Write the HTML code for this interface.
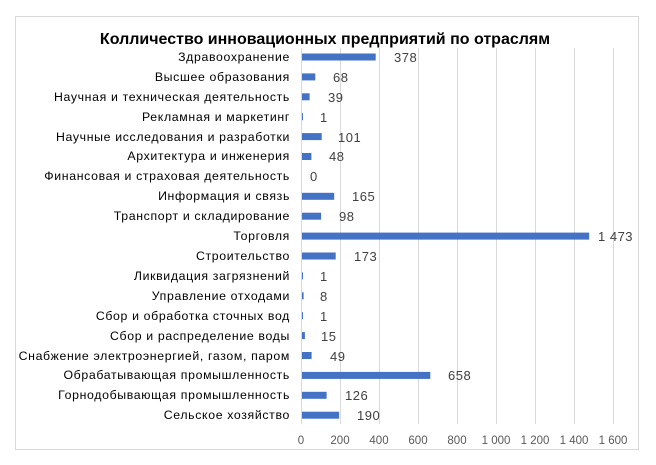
<!DOCTYPE html>
<html><head><meta charset="utf-8"><style>
html,body{margin:0;padding:0;background:#fff;}
svg{display:block;font-family:"Liberation Sans","DejaVu Sans",sans-serif;}
</style></head><body>
<svg width="656" height="465" viewBox="0 0 656 465" xmlns="http://www.w3.org/2000/svg">
<rect x="15.5" y="16.5" width="623" height="433" fill="#fff" stroke="#d9d9d9"/>
<text x="325" y="44" font-size="16" font-weight="bold" text-anchor="middle" fill="#000">Колличество инновационных предприятий по отраслям</text>
<g stroke="#d9d9d9" stroke-width="1">
<line x1="301.5" y1="48" x2="301.5" y2="424"/>
<line x1="340.5" y1="48" x2="340.5" y2="424"/>
<line x1="379.5" y1="48" x2="379.5" y2="424"/>
<line x1="418.5" y1="48" x2="418.5" y2="424"/>
<line x1="457.5" y1="48" x2="457.5" y2="424"/>
<line x1="496.5" y1="48" x2="496.5" y2="424"/>
<line x1="535.5" y1="48" x2="535.5" y2="424"/>
<line x1="574.5" y1="48" x2="574.5" y2="424"/>
<line x1="613.5" y1="48" x2="613.5" y2="424"/>
</g>
<g font-size="11.5" fill="#595959" text-anchor="middle">
<text x="301" y="444">0</text><text x="340" y="444">200</text><text x="379" y="444">400</text><text x="418" y="444">600</text><text x="457" y="444">800</text><text x="496" y="444">1 000</text><text x="535" y="444">1 200</text><text x="574" y="444">1 400</text><text x="613" y="444">1 600</text>
</g>
<g font-size="12.3" fill="#000" text-anchor="end" letter-spacing="0.65">
<text x="290" y="61">Здравоохранение</text>
<text x="290" y="81">Высшее образования</text>
<text x="290" y="101">Научная и техническая деятельность</text>
<text x="290" y="121">Рекламная и маркетинг</text>
<text x="290" y="141">Научные исследования и разработки</text>
<text x="290" y="160">Архитектура и инженерия</text>
<text x="290" y="180">Финансовая и страховая деятельность</text>
<text x="290" y="200">Информация и связь</text>
<text x="290" y="220">Транспорт и складирование</text>
<text x="290" y="240">Торговля</text>
<text x="290" y="260">Строительство</text>
<text x="290" y="280">Ликвидация загрязнений</text>
<text x="290" y="300">Управление отходами</text>
<text x="290" y="320">Сбор и обработка сточных вод</text>
<text x="290" y="340">Сбор и распределение воды</text>
<text x="290" y="360">Снабжение электроэнергией, газом, паром</text>
<text x="290" y="379">Обрабатывающая промышленность</text>
<text x="290" y="399">Горнодобывающая промышленность</text>
<text x="290" y="419">Сельское хозяйство</text>
</g>
<g fill="#4472c4">
<rect x="302" y="53.5" width="73.7" height="7"/>
<rect x="302" y="73.4" width="13.3" height="7"/>
<rect x="302" y="93.3" width="7.6" height="7"/>
<rect x="302" y="113.2" width="1" height="7"/>
<rect x="302" y="133.1" width="19.7" height="7"/>
<rect x="302" y="153" width="9.4" height="7"/>
<rect x="302" y="192.8" width="32.2" height="7"/>
<rect x="302" y="212.7" width="19.1" height="7"/>
<rect x="302" y="232.6" width="287.2" height="7"/>
<rect x="302" y="252.5" width="33.7" height="7"/>
<rect x="302" y="272.4" width="1" height="7"/>
<rect x="302" y="292.3" width="1.6" height="7"/>
<rect x="302" y="312.2" width="1" height="7"/>
<rect x="302" y="332.1" width="2.9" height="7"/>
<rect x="302" y="352" width="9.6" height="7"/>
<rect x="302" y="371.9" width="128.3" height="7"/>
<rect x="302" y="391.8" width="24.6" height="7"/>
<rect x="302" y="411.7" width="37.1" height="7"/>
</g>
<g font-size="13" fill="#404040" letter-spacing="0.5">
<text x="394" y="62">378</text>
<text x="333" y="82">68</text>
<text x="328" y="102">39</text>
<text x="320" y="122">1</text>
<text x="338" y="142">101</text>
<text x="329" y="161">48</text>
<text x="310" y="181">0</text>
<text x="352" y="201">165</text>
<text x="339" y="221">98</text>
<text x="598" y="241">1 473</text>
<text x="354" y="261">173</text>
<text x="320" y="281">1</text>
<text x="320" y="301">8</text>
<text x="320" y="321">1</text>
<text x="321" y="341">15</text>
<text x="330" y="361">49</text>
<text x="448" y="380">658</text>
<text x="345" y="400">126</text>
<text x="357" y="420">190</text>
</g>
</svg>
</body></html>
